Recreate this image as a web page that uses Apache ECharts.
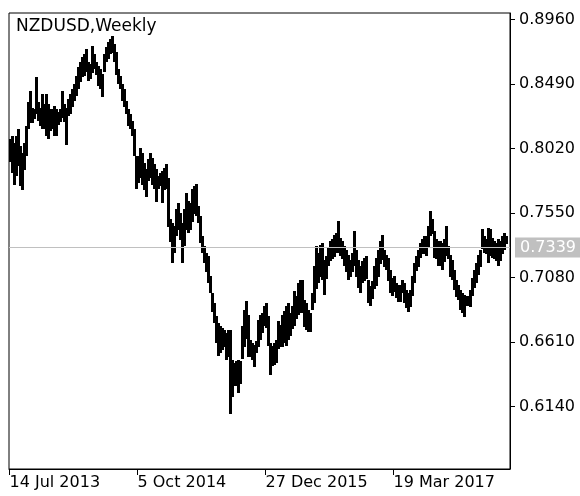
<!DOCTYPE html>
<html>
<head>
<meta charset="utf-8">
<style>
  html, body { margin: 0; padding: 0; background: #fff; }
  #chart { width: 580px; height: 496px; }
</style>
<script src="https://cdn.jsdelivr.net/npm/echarts@6/dist/echarts.min.js"></script>
</head>
<body>
<div id="chart"></div>
<script>
const symbolName = 'NZDUSD,Weekly';

// weekly highs / lows, one per bar
const barHigh = [
  0.8089, 0.8113, 0.8064, 0.8113, 0.8162, 0.8040, 0.7991, 0.8064, 0.8186, 0.8357,
  0.8441, 0.8320, 0.8308, 0.8539, 0.8357, 0.8320, 0.8417, 0.8344, 0.8417, 0.8344,
  0.8308, 0.8308, 0.8332, 0.8308, 0.8284, 0.8308, 0.8441, 0.8344, 0.8320, 0.8381,
  0.8417, 0.8454, 0.8490, 0.8551, 0.8612, 0.8649, 0.8685, 0.8709, 0.8746, 0.8649,
  0.8636, 0.8770, 0.8709, 0.8649, 0.8624, 0.8600, 0.8563, 0.8709, 0.8758, 0.8795,
  0.8819, 0.8843, 0.8783, 0.8722, 0.8600, 0.8551, 0.8490, 0.8454, 0.8368, 0.8308,
  0.8271, 0.8222, 0.8162, 0.7967, 0.7967, 0.8028, 0.7991, 0.7918, 0.7869, 0.7942,
  0.7991, 0.7955, 0.7906, 0.7869, 0.7820, 0.7845, 0.7857, 0.7882, 0.7906, 0.7809,
  0.7504, 0.7480, 0.7455, 0.7577, 0.7626, 0.7553, 0.7480, 0.7577, 0.7699, 0.7638,
  0.7626, 0.7723, 0.7747, 0.7760, 0.7601, 0.7528, 0.7382, 0.7309, 0.7261, 0.7236,
  0.7090, 0.6969, 0.6896, 0.6798, 0.6750, 0.6725, 0.6713, 0.6701, 0.6676, 0.6701,
  0.6701, 0.6481, 0.6457, 0.6469, 0.6481, 0.6469, 0.6725, 0.6847, 0.6907, 0.6810,
  0.6628, 0.6603, 0.6591, 0.6615, 0.6774, 0.6810, 0.6823, 0.6871, 0.6896, 0.6798,
  0.6603, 0.6579, 0.6603, 0.6628, 0.6761, 0.6737, 0.6810, 0.6834, 0.6871, 0.6896,
  0.6823, 0.6871, 0.6980, 0.6944, 0.7042, 0.7066, 0.7066, 0.6920, 0.6896, 0.6847,
  0.6823, 0.6969, 0.7163, 0.7309, 0.7261, 0.7321, 0.7334, 0.7212, 0.7236, 0.7297,
  0.7346, 0.7358, 0.7394, 0.7407, 0.7492, 0.7370, 0.7346, 0.7309, 0.7285, 0.7248,
  0.7212, 0.7261, 0.7419, 0.7285, 0.7212, 0.7163, 0.7200, 0.7224, 0.7236, 0.7066,
  0.7017, 0.7053, 0.7163, 0.7224, 0.7285, 0.7346, 0.7394, 0.7285, 0.7248, 0.7224,
  0.7139, 0.7078, 0.7095, 0.7042, 0.7029, 0.7029, 0.7066, 0.7042, 0.6993, 0.6969,
  0.6993, 0.7090, 0.7188, 0.7236, 0.7285, 0.7334, 0.7358, 0.7382, 0.7382, 0.7455,
  0.7565, 0.7504, 0.7419, 0.7358, 0.7346, 0.7346, 0.7334, 0.7358, 0.7455, 0.7309,
  0.7248, 0.7212, 0.7139, 0.7066, 0.7029, 0.6993, 0.6969, 0.6956, 0.6944, 0.6944,
  0.6993, 0.7078, 0.7139, 0.7188, 0.7248, 0.7285, 0.7431, 0.7382, 0.7358, 0.7444,
  0.7431, 0.7370, 0.7346, 0.7334, 0.7358, 0.7346, 0.7382, 0.7407, 0.7382
];
const barLow = [
  0.7918, 0.7845, 0.7760, 0.7820, 0.7893, 0.7747, 0.7723, 0.7869, 0.7967, 0.8162,
  0.8211, 0.8211, 0.8235, 0.8271, 0.8222, 0.8186, 0.8162, 0.8162, 0.8113, 0.8089,
  0.8149, 0.8162, 0.8113, 0.8113, 0.8186, 0.8211, 0.8247, 0.8211, 0.8052, 0.8259,
  0.8271, 0.8320, 0.8368, 0.8405, 0.8454, 0.8503, 0.8539, 0.8551, 0.8576, 0.8514,
  0.8527, 0.8576, 0.8600, 0.8551, 0.8478, 0.8454, 0.8393, 0.8576, 0.8649, 0.8673,
  0.8709, 0.8722, 0.8649, 0.8551, 0.8490, 0.8454, 0.8368, 0.8322, 0.8271, 0.8186,
  0.8162, 0.8113, 0.7967, 0.7723, 0.7772, 0.7809, 0.7760, 0.7723, 0.7663, 0.7784,
  0.7809, 0.7760, 0.7723, 0.7626, 0.7723, 0.7747, 0.7626, 0.7723, 0.7723, 0.7455,
  0.7334, 0.7188, 0.7261, 0.7382, 0.7431, 0.7358, 0.7188, 0.7309, 0.7431, 0.7407,
  0.7431, 0.7480, 0.7541, 0.7528, 0.7480, 0.7334, 0.7261, 0.7188, 0.7126, 0.7042,
  0.6969, 0.6834, 0.6750, 0.6603, 0.6506, 0.6530, 0.6554, 0.6579, 0.6481, 0.6506,
  0.6092, 0.6213, 0.6286, 0.6286, 0.6238, 0.6299, 0.6481, 0.6579, 0.6628, 0.6506,
  0.6506, 0.6481, 0.6432, 0.6530, 0.6579, 0.6628, 0.6676, 0.6725, 0.6713, 0.6579,
  0.6372, 0.6432, 0.6445, 0.6457, 0.6554, 0.6579, 0.6579, 0.6603, 0.6579, 0.6628,
  0.6652, 0.6701, 0.6725, 0.6774, 0.6810, 0.6823, 0.6823, 0.6725, 0.6701, 0.6688,
  0.6688, 0.6847, 0.6896, 0.6993, 0.7042, 0.7090, 0.7066, 0.6956, 0.7066, 0.7163,
  0.7200, 0.7212, 0.7236, 0.7261, 0.7261, 0.7236, 0.7212, 0.7163, 0.7126, 0.7066,
  0.7090, 0.7126, 0.7163, 0.7090, 0.7005, 0.6969, 0.7042, 0.7053, 0.7066, 0.6896,
  0.6871, 0.6920, 0.6993, 0.7017, 0.7090, 0.7175, 0.7212, 0.7163, 0.7139, 0.7053,
  0.6969, 0.6944, 0.6980, 0.6932, 0.6907, 0.6907, 0.6969, 0.6896, 0.6859, 0.6834,
  0.6871, 0.6944, 0.7042, 0.7126, 0.7163, 0.7224, 0.7248, 0.7248, 0.7236, 0.7297,
  0.7382, 0.7394, 0.7224, 0.7212, 0.7163, 0.7163, 0.7139, 0.7188, 0.7236, 0.7212,
  0.7090, 0.7066, 0.6993, 0.6944, 0.6920, 0.6847, 0.6823, 0.6798, 0.6871, 0.6871,
  0.6871, 0.6944, 0.7005, 0.7042, 0.7102, 0.7163, 0.7285, 0.7261, 0.7248, 0.7188,
  0.7236, 0.7224, 0.7212, 0.7200, 0.7163, 0.7200, 0.7248, 0.7285, 0.7321
];
const lastPrice = 0.7339;

const priceTicks = [0.8960, 0.8490, 0.8020, 0.7550, 0.7080, 0.6610, 0.6140];
const dateTickBars = [0, 64, 128, 192];
const dateTickLabels = ['14 Jul 2013', '5 Oct 2014', '27 Dec 2015', '19 Mar 2017'];

const font = 'DejaVu Sans';
const chart = echarts.init(document.getElementById('chart'), null, { renderer: 'canvas' });

const bars = barHigh.map((h, i) => [i, h, barLow[i]]);

// one bar = black stroke from low to high
function renderBar(params, api) {
    const top = api.coord([api.value(0), api.value(1)]);
    const bottom = api.coord([api.value(0), api.value(2)]);
    return {
        type: 'rect',
        shape: {
            x: Math.round(top[0]) - 1,
            y: Math.round(top[1]),
            width: 3,
            height: Math.max(1, Math.round(bottom[1] - top[1]))
        },
        style: { fill: '#000' }
    };
}

const option = {
    animation: false,
    title: {
        text: symbolName,
        left: 16,
        top: 18,
        padding: 0,
        textStyle: { fontFamily: font, fontSize: 17, fontWeight: 'normal', color: '#000' }
    },
    grid: {
        left: 9,
        right: 70,
        top: 13,
        bottom: 27,
        show: true,
        borderColor: '#000',
        borderWidth: 1
    },
    xAxis: {
        type: 'value',
        min: -0.25,
        max: 250.25,
        axisLine: { show: true, onZero: false, lineStyle: { color: '#000', width: 1 } },
        axisTick: { show: true, inside: false, length: 6, customValues: dateTickBars, lineStyle: { color: '#000', width: 1 } },
        axisLabel: {
            customValues: dateTickBars,
            formatter: (v) => dateTickLabels[dateTickBars.indexOf(v)],
            align: 'left',
            margin: 6,
            fontFamily: font,
            fontSize: 16,
            color: '#000'
        },
        splitLine: { show: false }
    },
    yAxis: {
        type: 'value',
        position: 'right',
        min: 0.5685,
        max: 0.9009,
        axisLine: { show: true, onZero: false, lineStyle: { color: '#000', width: 1 } },
        axisTick: { show: true, inside: false, length: 5, customValues: priceTicks, lineStyle: { color: '#000', width: 1 } },
        axisLabel: {
            customValues: priceTicks,
            formatter: (v) => v.toFixed(4),
            margin: 9,
            fontFamily: font,
            fontSize: 16,
            color: '#000'
        },
        splitLine: { show: false }
    },
    series: [
        {
            // current price line, under the bars
            type: 'line',
            z: 1,
            data: [[-0.25, lastPrice]],
            showSymbol: false,
            silent: true,
            markLine: {
                silent: true,
                symbol: 'none',
                animation: false,
                lineStyle: { color: '#c0c0c0', type: 'solid', width: 1 },
                label: {
                    position: 'end',
                    distance: 5,
                    formatter: lastPrice.toFixed(4),
                    backgroundColor: '#c0c0c0',
                    color: '#fff',
                    padding: [2, 5, 2, 5],
                    fontFamily: font,
                    fontSize: 16
                },
                emphasis: { disabled: true },
                data: [{ yAxis: lastPrice }]
            }
        },
        {
            type: 'custom',
            z: 3,
            renderItem: renderBar,
            encode: { x: 0, y: [1, 2] },
            data: bars
        }
    ]
};

chart.setOption(option);
</script>
</body>
</html>
